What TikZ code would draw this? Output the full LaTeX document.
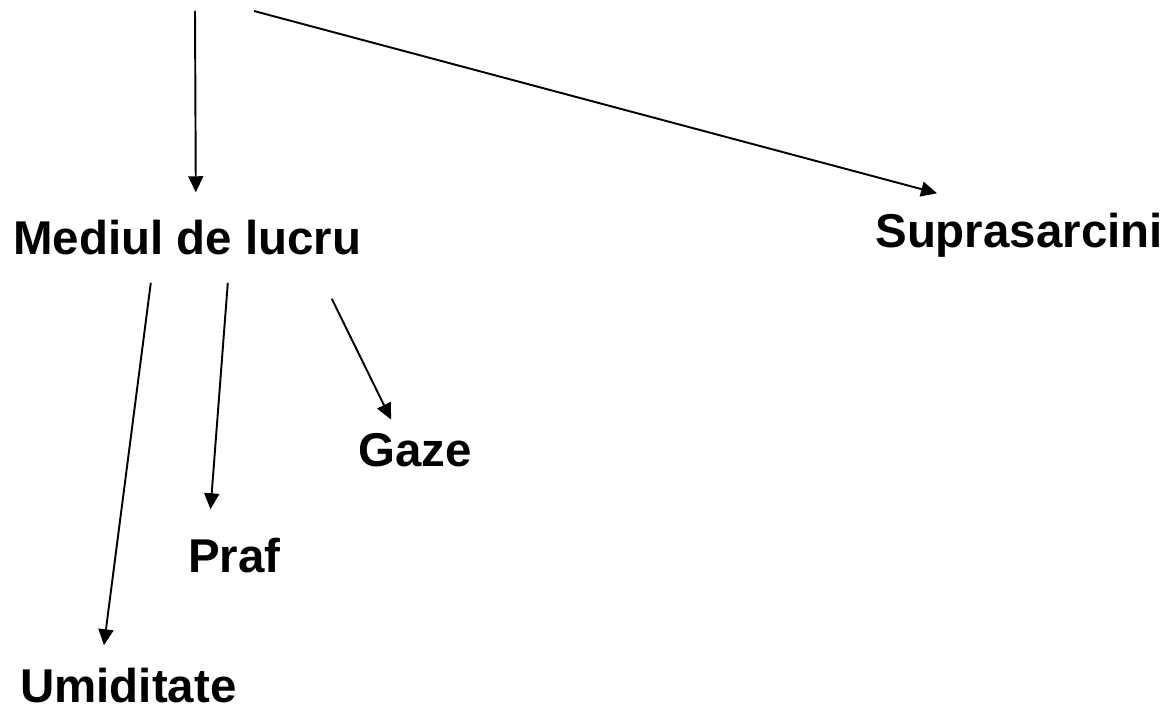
\documentclass[tikz,border=0pt]{standalone}
\usepackage{fontspec}
\setmainfont{Liberation Sans}
\usetikzlibrary{arrows.meta,calc}
\tikzset{
  lbl/.style={font=\fontsize{27}{32}\selectfont\bfseries, inner sep=0pt, anchor=base west},
  arr/.style={-{Triangle[width=0.3cm,length=0.32cm]}, line width=1.1pt}
}
\begin{document}
\begin{tikzpicture}[x=0.02cm,y=0.02cm]
\useasboundingbox (0,0) rectangle (1172,715);
\node[lbl] (mediul) at (13,460) {Mediul de lucru};
\node[lbl] (supra) at (875,467) {Suprasarcini};
\node[lbl] (gaze) at (358,248) {Gaze};
\node[lbl] (praf) at (188,142) {Praf};
\node[lbl] (umid) at (20,12) {Umiditate};
\coordinate (srcA) at (195,704);
\coordinate (srcB) at (254,704);
\draw[arr] (srcA) -- ($(mediul.north)+(8.5,28)$);
\draw[arr] (srcB) -- ($(supra.north)+(-82,20)$);
\draw[arr] ($(mediul.south)+(-36.5,-27)$) -- ($(umid.north)+(-24.5,23)$);
\draw[arr] ($(mediul.south)+(40.5,-27)$) -- ($(praf.north)+(-24,29)$);
\draw[arr] ($(mediul.south)+(144.5,-43)$) -- ($(gaze.north)+(-24,14)$);
\end{tikzpicture}
\end{document}
